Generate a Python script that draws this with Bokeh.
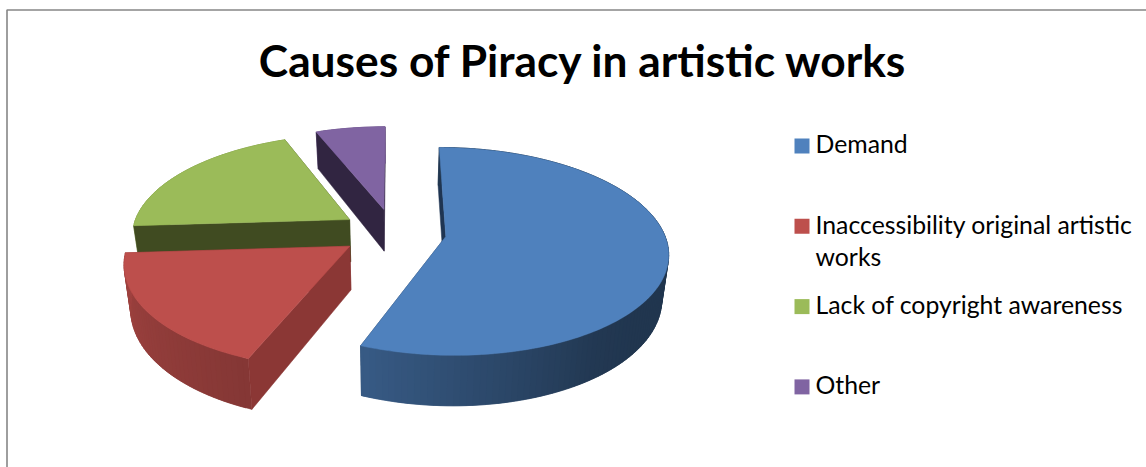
from bokeh.core.properties import value
from bokeh.embed import file_html
from bokeh.models import ColumnDataSource, Range1d
from bokeh.plotting import figure
from bokeh.resources import INLINE
import numpy as np

# Chart content
title_text = "Causes of Piracy in artistic works"
categories = ["Demand", "Inaccessibility original artistic works",
              "Lack of copyright awareness", "Other"]
legend_lines = [["Demand"], ["Inaccessibility original artistic", "works"],
                ["Lack of copyright awareness"], ["Other"]]
shares = [56, 18, 20, 6]

# Slice colours: top face and the darker cut faces
top_colors = ["#4F81BD", "#BD4F4C", "#9BBB59", "#8064A2"]
cut_colors = ["#1F3552", "#8B3735", "#404B21", "#312541"]
draw_order = [3, 2, 0, 1]

# Projection of the pie plane onto the page
CX, CY = 393.0, 231.5
RX, RY = 218.0, 100.5
VIEW_DIST = 7.0
EXPLODE_X, EXPLODE_Y = 0.2427, 0.235
DEPTH = 43.0
BOTTOM_SHRINK = 0.975

TITLE_PX, LEGEND_PX = 44.3, 24.8
# Distance from the requested y to the drawn baseline, as a share of the font size
BASELINE_LIFT = 0.385


def project(px, py, lower=False):
    s = 1.0 / (1.0 - py / VIEW_DIST)
    x = CX + RX * px * s
    y = CY + RY * py * s
    if lower:
        x = CX + (x - CX) * BOTTOM_SHRINK
        y = y + DEPTH * s
    return x, y


def rim_shade(angle):
    # Lighting around the rim: angle is clockwise from twelve o'clock
    return np.interp(angle, [0, 130, 145, 200, 270, 360],
                     [0.42, 0.42, 0.44, 0.70, 0.86, 0.86])


def scaled(color, k):
    r, g, b = (int(color[i:i + 2], 16) for i in (1, 3, 5))
    return "#%02X%02X%02X" % (int(r * k), int(g * k), int(b * k))


xs, ys, fills = [], [], []


def add_face(points, color):
    xs.append([pt[0] for pt in points])
    ys.append([pt[1] for pt in points])
    fills.append(color)


cum = np.concatenate([[0.0], np.cumsum(shares)]) / sum(shares) * 360.0
for i in draw_order:
    a0, a1 = cum[i], cum[i + 1]
    mid = np.radians((a0 + a1) / 2)
    ox, oy = EXPLODE_X * np.sin(mid), -EXPLODE_Y * np.cos(mid)
    angles = np.arange(a0, a1, 1.5).tolist() + [a1]
    rim = [(ox + np.sin(np.radians(a)), oy - np.cos(np.radians(a))) for a in angles]
    apex = (ox, oy)

    def cut_face(end):
        add_face([project(*apex), project(*end), project(*end, lower=True),
                  project(*apex, lower=True)], cut_colors[i])

    # A cut face looks toward the viewer when its outward normal points down the page
    start_front = -np.sin(np.radians(a0)) > 0
    end_front = np.sin(np.radians(a1)) > 0
    if not start_front:
        cut_face(rim[0])
    if not end_front:
        cut_face(rim[-1])
    # Outer wall: each strip laps over the next step so no seam shows between them
    for j in range(len(rim) - 1):
        k = min(j + 2, len(rim) - 1)
        add_face([project(*rim[j]), project(*rim[k]),
                  project(*rim[k], lower=True), project(*rim[j], lower=True)],
                 scaled(top_colors[i], rim_shade((angles[j] + angles[j + 1]) / 2)))
    if start_front:
        cut_face(rim[0])
    if end_front:
        cut_face(rim[-1])
    # Top face
    add_face([project(*apex)] + [project(*pt) for pt in rim], top_colors[i])

p = figure(width=1146, height=467, output_backend="svg", toolbar_location=None,
           x_range=Range1d(0, 1146), y_range=Range1d(467, 0), min_border=0,
           background_fill_color="white", border_fill_color="white")
p.axis.visible = False
p.grid.visible = False
p.outline_line_color = None

# Chart frame: only its left and top sides fall inside the page
p.quad(left=[6.5], right=[1170], top=[9.5], bottom=[490], fill_color=None,
       line_color="#868686", line_width=1.6)

src = ColumnDataSource(dict(xs=xs, ys=ys, fill=fills))
p.patches("xs", "ys", source=src, fill_color="fill", line_color="fill", line_width=0.5)

p.text(x=[583], y=[76 - BASELINE_LIFT * TITLE_PX], text=[title_text], text_font=value("Lato"),
       text_font_style="bold", text_font_size=f"{TITLE_PX}px", text_color="#000000",
       text_align="center", text_baseline="alphabetic")

# Legend: four rows on an even pitch
LEG_TOP, LEG_STEP = 138.0, 80.3
for i, lines in enumerate(legend_lines):
    y0 = LEG_TOP + LEG_STEP * i
    p.quad(left=[794], right=[809], top=[y0], bottom=[y0 + 15],
           fill_color=top_colors[i], line_color=None)
    for k, line in enumerate(lines):
        p.text(x=[815], y=[y0 + 15 + 32.5 * k - BASELINE_LIFT * LEGEND_PX], text=[line],
               text_font=value("Lato"), text_font_size=f"{LEGEND_PX}px", text_color="#000000",
               text_align="left", text_baseline="alphabetic")

open("out.html", "w").write(file_html(p, INLINE))
